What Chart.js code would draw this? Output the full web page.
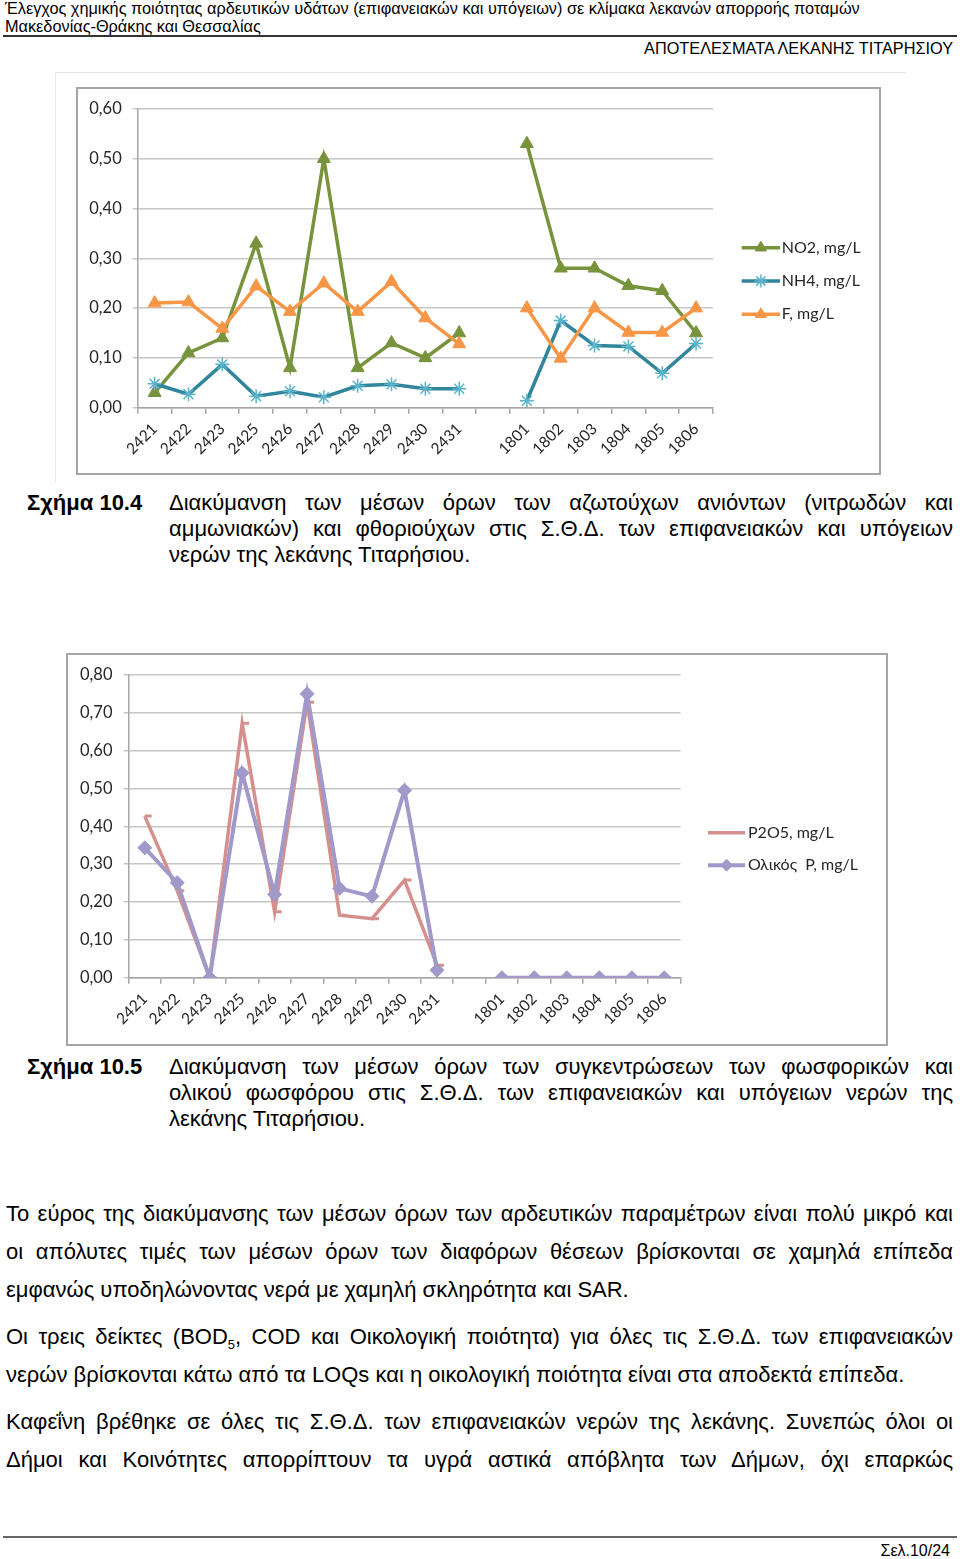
<!DOCTYPE html>
<html><head><meta charset="utf-8">
<script src="https://cdn.jsdelivr.net/npm/chart.js@4/dist/chart.umd.min.js"></script>
<style>
html,body{margin:0;padding:0;background:#fff;}
body{width:960px;height:1559px;position:relative;overflow:hidden;font-family:"Liberation Sans",Arial,sans-serif;color:#000;}
.t{position:absolute;white-space:nowrap;}
.j{position:absolute;text-align:justify;text-align-last:justify;}
.hd{font-size:16.3px;line-height:18px;}
.cap{font-size:22px;line-height:26px;}
.bd{font-size:22px;line-height:26px;}
.box{position:absolute;box-sizing:border-box;border:2px solid #a6a6a6;}
canvas{position:absolute;}
</style></head>
<body>
<div class="t hd" style="left:5px;top:-1px;">Έλεγχος χημικής ποιότητας αρδευτικών υδάτων (επιφανειακών και υπόγειων) σε κλίμακα λεκανών απορροής ποταμών</div>
<div class="t hd" style="left:5px;top:17px;">Μακεδονίας-Θράκης και Θεσσαλίας</div>
<div style="position:absolute;left:3px;top:35px;width:954px;height:2px;background:#333;"></div>
<div class="t hd" style="right:7px;top:39px;">ΑΠΟΤΕΛΕΣΜΑΤΑ ΛΕΚΑΝΗΣ ΤΙΤΑΡΗΣΙΟΥ</div>

<div style="position:absolute;left:55px;top:72px;width:850px;height:410px;border-top:1px solid #e4e4e4;border-left:1px solid #ececec;"></div>
<div class="box" style="left:76px;top:87px;width:805px;height:388px;"></div>
<canvas id="c1" width="803" height="385" style="left:77px;top:88px;"></canvas>

<div class="t cap" style="left:27px;top:490px;font-weight:bold;">Σχήμα 10.4</div>
<div class="j cap" style="left:169px;top:490px;width:784px;">Διακύμανση των μέσων όρων των αζωτούχων ανιόντων (νιτρωδών και</div>
<div class="j cap" style="left:169px;top:516px;width:784px;">αμμωνιακών) και φθοριούχων στις Σ.Θ.Δ. των επιφανειακών και υπόγειων</div>
<div class="t cap" style="left:169px;top:542px;">νερών της λεκάνης Τιταρήσιου.</div>

<div class="box" style="left:66px;top:653px;width:822px;height:393px;"></div>
<canvas id="c2" width="821" height="390" style="left:66px;top:654px;"></canvas>

<div class="t cap" style="left:27px;top:1054px;font-weight:bold;">Σχήμα 10.5</div>
<div class="j cap" style="left:169px;top:1054px;width:784px;">Διακύμανση των μέσων όρων των συγκεντρώσεων των φωσφορικών και</div>
<div class="j cap" style="left:169px;top:1080px;width:784px;">ολικού φωσφόρου στις Σ.Θ.Δ. των επιφανειακών και υπόγειων νερών της</div>
<div class="t cap" style="left:169px;top:1106px;">λεκάνης Τιταρήσιου.</div>

<div class="j bd" style="left:6px;top:1201px;width:947px;">Το εύρος της διακύμανσης των μέσων όρων των αρδευτικών παραμέτρων είναι πολύ μικρό και</div>
<div class="j bd" style="left:6px;top:1239px;width:947px;">οι απόλυτες τιμές των μέσων όρων των διαφόρων θέσεων βρίσκονται σε χαμηλά επίπεδα</div>
<div class="t bd" style="left:6px;top:1277px;">εμφανώς υποδηλώνοντας νερά με χαμηλή σκληρότητα και SAR.</div>
<div class="j bd" style="left:6px;top:1324px;width:947px;">Οι τρεις δείκτες (BOD<sub style="font-size:13px;line-height:0;">5</sub>, COD και Οικολογική ποιότητα) για όλες τις Σ.Θ.Δ. των επιφανειακών</div>
<div class="t bd" style="left:6px;top:1362px;">νερών βρίσκονται κάτω από τα LOQs και η οικολογική ποιότητα είναι στα αποδεκτά επίπεδα.</div>
<div class="j bd" style="left:6px;top:1409px;width:947px;">Καφεΐνη βρέθηκε σε όλες τις Σ.Θ.Δ. των επιφανειακών νερών της λεκάνης. Συνεπώς όλοι οι</div>
<div class="j bd" style="left:6px;top:1447px;width:947px;">Δήμοι και Κοινότητες απορρίπτουν τα υγρά αστικά απόβλητα των Δήμων, όχι επαρκώς</div>

<div style="position:absolute;left:3px;top:1536px;width:954px;height:2px;background:#666;"></div>
<div class="t" style="right:10px;top:1542px;font-size:16px;line-height:18px;">Σελ.10/24</div>

<script>
// ---- data ----
const categories = ['2421','2422','2423','2425','2426','2427','2428','2429','2430','2431','','1801','1802','1803','1804','1805','1806'];
const no2 = [0.03,0.11,0.14,0.33,0.08,0.50,0.08,0.13,0.10,0.15,null,0.53,0.28,0.28,0.245,0.235,0.15];
const nh4 = [0.048,0.027,0.087,0.023,0.033,0.021,0.044,0.047,0.038,0.038,null,0.014,0.175,0.125,0.123,0.069,0.129];
const fluor = [0.21,0.212,0.159,0.244,0.193,0.25,0.193,0.253,0.18,0.128,null,0.20,0.099,0.20,0.151,0.151,0.20];
const yTicks1 = ['0,00','0,10','0,20','0,30','0,40','0,50','0,60'];
const p2o5 = [0.427,0.23,0,0.672,0.174,0.728,0.165,0.156,0.258,0.033,null,0,0,0,0,0,0];
const totalP = [0.343,0.251,0,0.541,0.22,0.75,0.236,0.215,0.495,0.02,null,0,0,0,0,0,0];
const yTicks2 = ['0,00','0,10','0,20','0,30','0,40','0,50','0,60','0,70','0,80'];

const FONT = 'Lato';
const TXT = '#262626';

function drawMarker(ctx, style, x, y, r, fill, stroke, bw) {
  ctx.save();
  ctx.fillStyle = fill; ctx.strokeStyle = stroke; ctx.lineWidth = bw;
  ctx.beginPath();
  if (style === 'triangle') {
    ctx.moveTo(x, y - r);
    ctx.lineTo(x + r * 0.866, y + r * 0.5);
    ctx.lineTo(x - r * 0.866, y + r * 0.5);
    ctx.closePath(); ctx.fill(); ctx.stroke();
  } else if (style === 'rectRot') {
    ctx.moveTo(x, y - r); ctx.lineTo(x + r, y); ctx.lineTo(x, y + r); ctx.lineTo(x - r, y);
    ctx.closePath(); ctx.fill(); ctx.stroke();
  } else if (style === 'star') {
    for (let k = 0; k < 4; k++) {
      const a = k * Math.PI / 4;
      ctx.moveTo(x - Math.cos(a) * r, y - Math.sin(a) * r);
      ctx.lineTo(x + Math.cos(a) * r, y + Math.sin(a) * r);
    }
    ctx.stroke();
  }
  ctx.restore();
}

const xlLegend = {
  id: 'xlLegend',
  afterDraw(chart, args, o) {
    const ctx = chart.ctx;
    o.items.forEach((it, i) => {
      const ds = chart.data.datasets[it];
      const y = o.y0 + i * o.dy;
      ctx.save();
      ctx.strokeStyle = ds.borderColor; ctx.lineWidth = ds.borderWidth;
      ctx.beginPath(); ctx.moveTo(o.x1, y); ctx.lineTo(o.x2, y); ctx.stroke();
      if (ds.legendMarker) drawMarker(ctx, ds.pointStyle, (o.x1 + o.x2) / 2, y, ds.legendRadius, ds.pointBackgroundColor, ds.pointBorderColor, ds.pointBorderWidth);
      ctx.fillStyle = TXT; ctx.font = '16px ' + FONT; ctx.textBaseline = 'middle'; ctx.textAlign = 'left';
      ctx.fillText(ds.label, o.tx, y);
      ctx.restore();
    });
  }
};

function opts(yLabels, ymax, g) {
  return {
    responsive: false, animation: false, events: [], devicePixelRatio: 1,
    layout: { padding: { top: g.top, right: g.right, left: 0, bottom: 0 } },
    plugins: { legend: { display: false }, tooltip: { enabled: false }, xlLegend: g.legend },
    elements: { line: { tension: 0 } },
    scales: {
      x: {
        type: 'category', offset: true,
        grid: { offset: true, drawOnChartArea: false, drawTicks: true, tickLength: 6, color: '#a6a6a6', lineWidth: 1.5 },
        border: { display: true, color: '#a6a6a6', width: 1.5 },
        ticks: { autoSkip: false, minRotation: 45, maxRotation: 45, padding: 6, color: TXT, font: { family: FONT, size: 15.5 } },
        afterFit(s) { s.height = g.xh; }
      },
      y: {
        min: 0, max: ymax,
        grid: { color: '#c6c6c6', lineWidth: 1.5, tickLength: 5, drawTicks: true },
        border: { display: true, color: '#a6a6a6', width: 1.5 },
        ticks: { stepSize: 0.1, padding: 11, color: TXT, font: { family: FONT, size: 16.5 },
                 callback: (v) => yLabels[Math.round(v * 10)] },
        afterFit(s) { s.width = g.yw; }
      }
    }
  };
}

new Chart(document.getElementById('c1'), {
  type: 'line',
  data: {
    labels: categories,
    datasets: [
      { label: 'NO2, mg/L', data: no2, order: 2, borderColor: '#77933c', borderWidth: 3.5,
        pointStyle: 'triangle', pointRadius: 7.5, pointBackgroundColor: '#77933c', pointBorderColor: '#77933c', pointBorderWidth: 1,
        legendMarker: true, legendRadius: 6.5 },
      { label: 'NH4, mg/L', data: nh4, order: 1, borderColor: '#31859c', borderWidth: 3.5,
        pointStyle: 'star', pointRadius: 7, pointBackgroundColor: '#4bacc6', pointBorderColor: '#5ab4cc', pointBorderWidth: 1.5,
        legendMarker: true, legendRadius: 6.5 },
      { label: 'F, mg/L', data: fluor, order: 0, borderColor: '#f79646', borderWidth: 3.5,
        pointStyle: 'triangle', pointRadius: 7.5, pointBackgroundColor: '#f79646', pointBorderColor: '#f79646', pointBorderWidth: 1,
        legendMarker: true, legendRadius: 6.5 }
    ]
  },
  options: opts(yTicks1, 0.6, { top: 20.7, right: 167, yw: 60.7, xh: 65.3,
    legend: { items: [0, 1, 2], x1: 664.7, x2: 703, tx: 704.7, y0: 159.7, dy: 33.3 } }),
  plugins: [xlLegend]
});

new Chart(document.getElementById('c2'), {
  type: 'line',
  data: {
    labels: categories,
    datasets: [
      { label: 'P2O5, mg/L', data: p2o5, order: 1, borderColor: '#d58f8c', borderWidth: 3.5,
        pointStyle: 'dash', pointRadius: 7, pointBackgroundColor: '#d58f8c', pointBorderColor: '#d58f8c', pointBorderWidth: 3,
        legendMarker: false },
      { label: 'Ολικός  P, mg/L', data: totalP, order: 0, borderColor: '#a199c9', borderWidth: 4,
        pointStyle: 'rectRot', pointRadius: 7, pointBackgroundColor: '#a199c9', pointBorderColor: '#a199c9', pointBorderWidth: 1,
        legendMarker: true, legendRadius: 6 }
    ]
  },
  options: opts(yTicks2, 0.8, { top: 20.3, right: 206.5, yw: 62.5, xh: 66.3,
    legend: { items: [0, 1], x1: 642, x2: 679, tx: 682, y0: 178.7, dy: 32.5 } }),
  plugins: [xlLegend]
});
</script>
</body></html>
